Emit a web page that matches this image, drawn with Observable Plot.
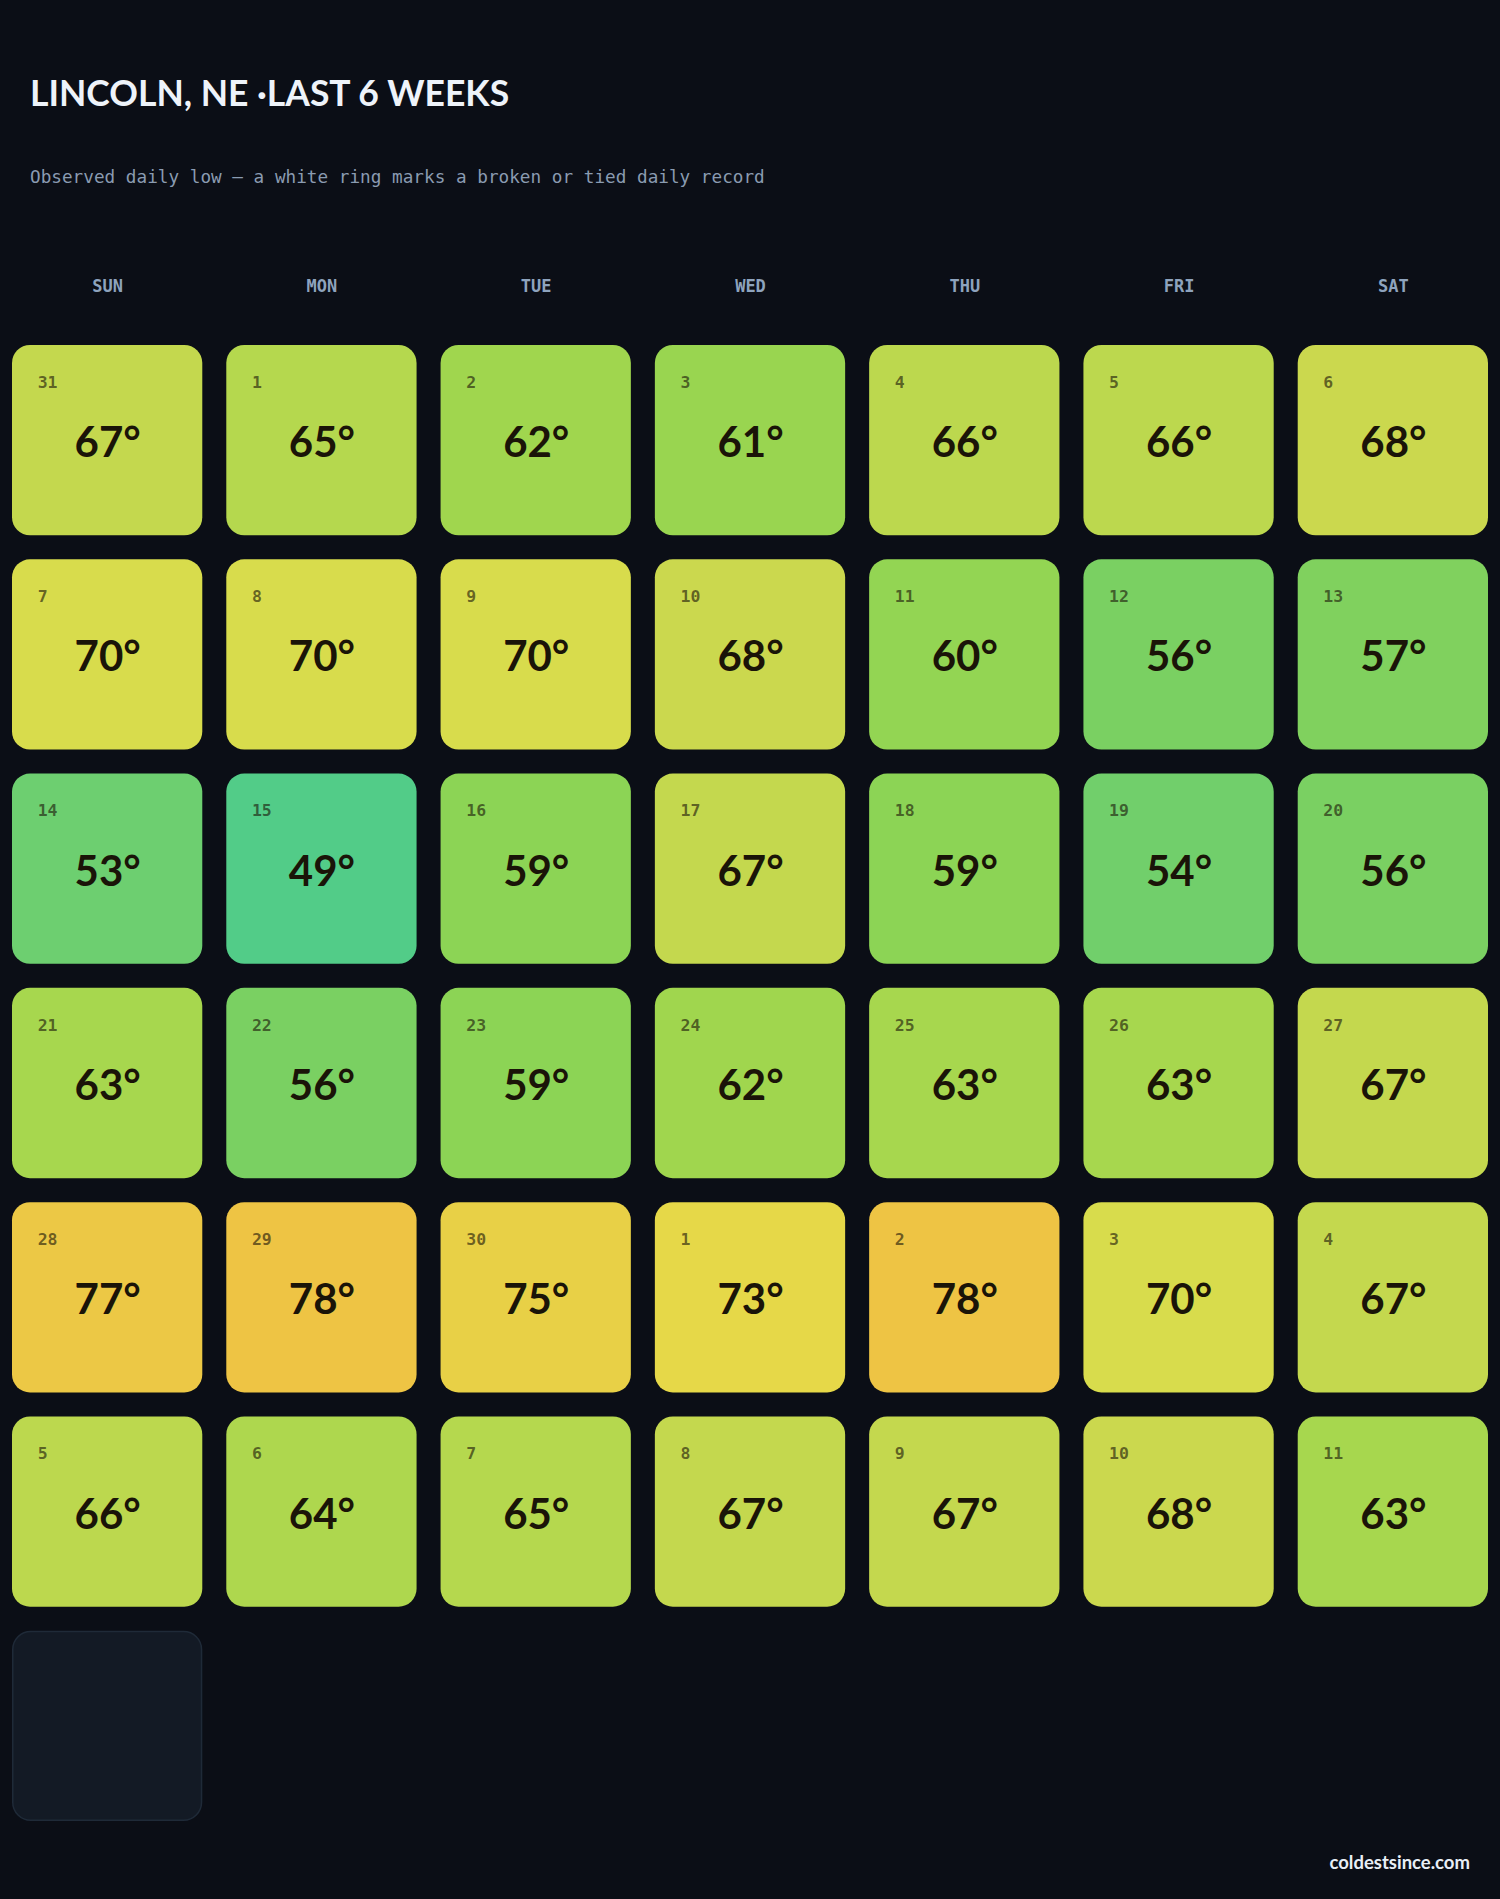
<!DOCTYPE html>
<html><head><meta charset="utf-8">
<script src="https://cdn.jsdelivr.net/npm/d3@7"></script>
<script src="https://cdn.jsdelivr.net/npm/@observablehq/plot@0.6"></script>
<style>
html,body{margin:0;padding:0;background:#0b0e16;}
#page{position:relative;width:1500px;height:1899px;background:#0b0e16;overflow:hidden;}
#head{position:relative;height:220px;}
#title{position:absolute;left:30px;top:75px;font-family:Lato,sans-serif;font-weight:700;font-size:35.5px;color:#eef3fa;line-height:1;white-space:nowrap;}
#subtitle{position:absolute;left:30px;top:168.5px;font-family:"DejaVu Sans Mono",monospace;font-size:17.7px;color:#8a9bb1;line-height:1;white-space:nowrap;}
#chart svg{display:block;}
#foot{position:relative;height:58px;}
#foot span{position:absolute;right:30px;top:10px;font-family:Lato,sans-serif;font-weight:700;font-size:18.5px;color:#e8eef6;}
</style></head>
<body><div id="page">
<div id="head"><div id="title">LINCOLN, NE ·LAST 6 WEEKS</div>
<div id="subtitle">Observed daily low — a white ring marks a broken or tied daily record</div></div>
<div id="chart"></div>
<div id="foot"><span>coldestsince.com</span></div>
</div>
<script>
const weekdays = ["SUN","MON","TUE","WED","THU","FRI","SAT"];
const dayLabels = ["31","1","2","3","4","5","6",
  "7","8","9","10","11","12","13",
  "14","15","16","17","18","19","20",
  "21","22","23","24","25","26","27",
  "28","29","30","1","2","3","4",
  "5","6","7","8","9","10","11"];
const lows = [67,65,62,61,66,66,68,
  70,70,70,68,60,56,57,
  53,49,59,67,59,54,56,
  63,56,59,62,63,63,67,
  77,78,75,73,78,70,67,
  66,64,65,67,67,68,63];
const pendingLabels = [""];
const colorStops = [49,53,56,59,62,65,68,70,73,75,78];
const colorValues = ["#52cc88","#6dcf70","#7ad062","#8cd455","#a0d64e","#b5d84e","#cbd84e","#d8dc4c","#e6d848","#e8d046","#eec444"];

const days = lows.map((t, i) => ({wk: Math.floor(i / 7), wd: i % 7, label: dayLabels[i], temp: t}));
const pending = pendingLabels.map((l, i) => ({wk: Math.floor((lows.length + i) / 7), wd: (lows.length + i) % 7, label: l}));

const chart = Plot.plot({
  width: 1500,
  height: 1621,
  marginTop: 125,
  marginLeft: 12,
  marginRight: 12,
  marginBottom: 20,
  style: {background: "transparent", overflow: "visible"},
  x: {type: "band", domain: d3.range(7), paddingInner: 0.112, paddingOuter: 0, round: false, axis: null},
  y: {type: "band", domain: d3.range(7), paddingInner: 0.112, paddingOuter: 0, round: false, axis: null},
  color: {type: "linear", domain: colorStops, range: colorValues, interpolate: "rgb"},
  marks: [
    Plot.text(weekdays, {x: (d, i) => i, text: d => d, frameAnchor: "top", lineAnchor: "middle", dy: -59,
      fontFamily: "DejaVu Sans Mono", fontWeight: 700, fontSize: 17, fill: "#8ea3bd"}),
    Plot.cell(pending, {x: "wd", y: "wk", fill: "#131a25", stroke: "#1f2a38", strokeWidth: 1.5, inset: 0.75, rx: 18, ry: 18}),
    Plot.cell(days, {x: "wd", y: "wk", fill: "temp", inset: 0, rx: 18, ry: 18}),
    Plot.text(days, {x: "wd", y: "wk", text: "label", textAnchor: "start", lineAnchor: "middle", dx: -70, dy: -58,
      fontFamily: "DejaVu Sans Mono", fontWeight: 700, fontSize: 16.5, fill: "#1a1408", fillOpacity: 0.62}),
    Plot.text(days, {x: "wd", y: "wk", text: d => d.temp + "°", lineAnchor: "middle", dy: 3,
      fontFamily: "Lato", fontWeight: 700, fontSize: 42, fill: "#1a1408"})
  ]
});
document.getElementById("chart").appendChild(chart);
</script>
</body></html>
